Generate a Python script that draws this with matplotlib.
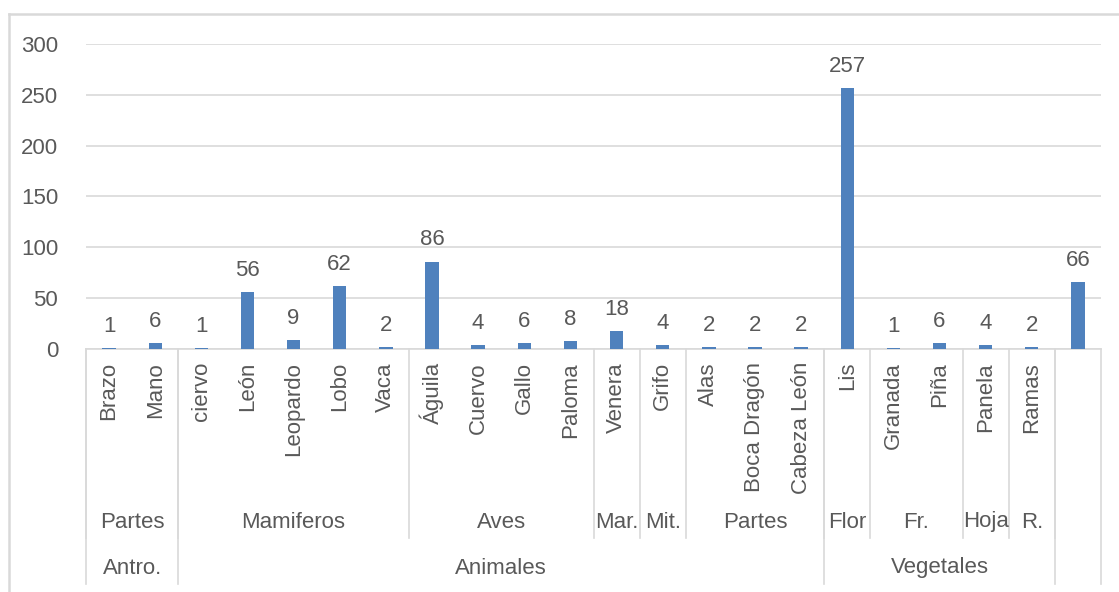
import matplotlib
matplotlib.use("Agg")
import matplotlib.pyplot as plt
from matplotlib import transforms
from matplotlib.lines import Line2D

leaf_labels = ["Brazo", "Mano", "ciervo", "León", "Leopardo", "Lobo", "Vaca",
               "Águila", "Cuervo", "Gallo", "Paloma", "Venera", "Grifo", "Alas",
               "Boca Dragón", "Cabeza León", "Lis", "Granada", "Piña", "Panela",
               "Ramas", ""]
values = [1, 6, 1, 56, 9, 62, 2, 86, 4, 6, 8, 18, 4, 2, 2, 2, 257, 1, 6, 4, 2, 66]
level2_names = ["Partes", "Mamiferos", "Aves", "Mar.", "Mit.", "Partes", "Flor",
                "Fr.", "Hoja", "R.", ""]
level2_sizes = [2, 5, 4, 1, 1, 3, 1, 2, 1, 1, 1]
level3_names = ["Antro.", "Animales", "Vegetales", ""]
level3_sizes = [2, 14, 5, 1]
yticks = [0, 50, 100, 150, 200, 250, 300]

W, H = 1119, 592
TXT = "#595959"
GRID = "#d9d9d9"
BAR = "#4f81bd"
FONT = "Liberation Sans"
FS = 16

plt.rcParams['font.family'] = [FONT, 'DejaVu Sans']

fig = plt.figure(figsize=(W / 100, H / 100), dpi=100)
fig.patch.set_facecolor("white")
# chart border (only left and top visible in the crop)
fig.lines.append(Line2D([9 / W, 9 / W], [0, 1 - 14 / H], transform=fig.transFigure,
                        color=GRID, lw=1.8))
fig.lines.append(Line2D([9 / W, 1], [1 - 14 / H, 1 - 14 / H], transform=fig.transFigure,
                        color=GRID, lw=1.8))

left, right = 86 / W, 1101 / W
bottom, top = 1 - 349 / H, 1 - 44 / H
ax = fig.add_axes([left, bottom, right - left, top - bottom])

n = len(values)
x = list(range(n))
ax.bar(x, values, width=0.29, color=BAR, zorder=3)
ax.set_xlim(-0.5, n - 0.5)
ax.set_ylim(0, 300)
ax.set_yticks(yticks)
ax.set_yticklabels([str(t) for t in yticks], color=TXT, fontsize=FS)
ax.tick_params(axis='y', length=0, pad=20)
ax.set_xticks([])
ax.grid(axis='y', color=GRID, lw=1.2, zorder=0)
for s in ["top", "right", "left"]:
    ax.spines[s].set_visible(False)
ax.spines["bottom"].set_color(GRID)
ax.spines["bottom"].set_linewidth(1.2)

for xi, v in zip(x, values):
    ax.annotate(str(v), (xi, v), xytext=(0, 8), textcoords="offset points",
                ha="center", va="bottom", color=TXT, fontsize=FS)

bt = transforms.blended_transform_factory(ax.transData, fig.transFigure)
y_axis = 1 - 349 / H
y_l2 = 1 - 538 / H
y_l3 = 1 - 584 / H

for xi, lab in zip(x, leaf_labels):
    if lab:
        ax.text(xi, 1 - 362 / H, lab, transform=bt, rotation=90, ha="center",
                va="top", color=TXT, fontsize=FS)

# level-2 labels and separators
pos = 0
for name, size in zip(level2_names, level2_sizes):
    c = pos + size / 2 - 0.5
    ax.text(c, 1 - 522 / H, name, transform=bt, ha="center", va="center",
            color=TXT, fontsize=FS)
    ax.plot([pos - 0.5, pos - 0.5], [y_axis, y_l2], transform=bt, color=GRID,
            lw=1.2, clip_on=False)
    pos += size

# level-3 labels and separators
pos = 0
for name, size in zip(level3_names, level3_sizes):
    c = pos + size / 2 - 0.5
    ax.text(c, 1 - 568 / H, name, transform=bt, ha="center", va="center",
            color=TXT, fontsize=FS)
    ax.plot([pos - 0.5, pos - 0.5], [y_axis, y_l3], transform=bt, color=GRID,
            lw=1.2, clip_on=False)
    pos += size
ax.plot([n - 0.5, n - 0.5], [y_axis, y_l3], transform=bt, color=GRID,
        lw=1.2, clip_on=False)

fig.savefig("out.png", dpi=100)
